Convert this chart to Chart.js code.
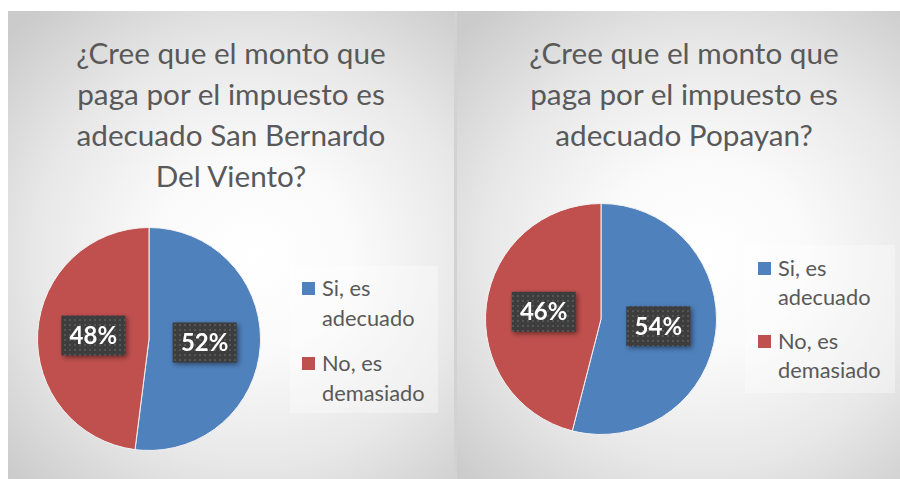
<!DOCTYPE html>
<html lang="es">
<head>
  <meta charset="UTF-8" />
  <title>Monto del impuesto</title>
  <script src="https://cdn.jsdelivr.net/npm/chart.js"></script>
  <style>
    html, body { margin: 0; padding: 0; background: #fff; }
    body { width: 900px; height: 479px; position: relative; overflow: hidden; font-family: "Lato", "Open Sans", sans-serif; }
    .marco { position: absolute; left: 8px; top: 11px; width: 900px; height: 470px; background: #d2d2d2; }
    .panel {
      position: absolute; top: 11px; height: 470px; box-sizing: border-box;
      background: radial-gradient(ellipse 75% 68% at 55% 52%, #ffffff 0%, #fafafa 30%, #e8e8e8 65%, #cbcbcb 100%);
    }
    #panel-izq { left: 8px; width: 446px; }
    #panel-der { left: 457px; width: 450px; }
    .titulo { position: absolute; text-align: center; color: #595959; font-size: 29.7px; line-height: 41px; }
    #titulo-izq { top: 32px; width: 446px; }
    #titulo-der { top: 32px; width: 454px; }
    .leyenda { position: absolute; background: rgba(255,255,255,0.35); color: #595959; font-size: 21.8px; line-height: 30px; box-sizing: border-box; }
    .leyenda .item { position: relative; padding-left: 20px; margin-bottom: 15px; }
    .leyenda .item:last-child { margin-bottom: 0; }
    .leyenda .cuadro { position: absolute; left: 0; top: 9px; width: 13px; height: 13px; }
    canvas { position: absolute; }
  </style>
</head>
<body>
  <div class="marco"></div>

  <div class="panel" id="panel-izq"></div>
  <div class="panel" id="panel-der"></div>

  <div class="titulo" id="titulo-izq" style="left:8px">¿Cree que el monto que<br>paga por el impuesto es<br>adecuado San Bernardo<br>Del Viento?</div>
  <div class="titulo" id="titulo-der" style="left:457px">¿Cree que el monto que<br>paga por el impuesto es<br>adecuado Popayan?</div>

  <div class="leyenda" id="leyenda-izq" style="left:290px; top:266px; width:148px; height:147px; padding:7px 0 0 12px;"></div>
  <div class="leyenda" id="leyenda-der" style="left:745px; top:245px; width:150px; height:148px; padding:8px 0 0 13px; line-height:29px;"></div>

  <canvas id="pie-izq" width="224" height="224" style="left:37px; top:227px;"></canvas>
  <canvas id="pie-der" width="232" height="232" style="left:485px; top:203px;"></canvas>

  <script>
    // datos
    const categorias = [["Si, es", "adecuado"], ["No, es", "demasiado"]];
    const valoresSanBernardo = [52, 48];
    const valoresPopayan = [54, 46];
    const colores = ["#4f81bd", "#c0504d"];

    // leyendas en html
    function armarLeyenda(id) {
      const cont = document.getElementById(id);
      categorias.forEach((lineas, i) => {
        const item = document.createElement("div");
        item.className = "item";
        item.innerHTML = `<span class="cuadro" style="background:${colores[i]}"></span>${lineas.join("<br>")}`;
        cont.appendChild(item);
      });
    }
    armarLeyenda("leyenda-izq");
    armarLeyenda("leyenda-der");

    // patron de puntos para las etiquetas
    const patCanvas = document.createElement("canvas");
    patCanvas.width = 5; patCanvas.height = 5;
    const pctx = patCanvas.getContext("2d");
    pctx.fillStyle = "#3d3d3d";
    pctx.fillRect(0, 0, 5, 5);
    pctx.fillStyle = "#555555";
    pctx.fillRect(2, 2, 2, 2);

    const etiquetas = {
      id: "etiquetas",
      afterDatasetsDraw(chart) {
        const ctx = chart.ctx;
        const meta = chart.getDatasetMeta(0);
        const datos = chart.data.datasets[0].data;
        const total = datos.reduce((a, b) => a + b, 0);
        meta.data.forEach((arc, i) => {
          const pos = arc.tooltipPosition();
          const w = 64, h = 40;
          ctx.save();
          ctx.shadowColor = "rgba(0,0,0,0.45)";
          ctx.shadowBlur = 5;
          ctx.shadowOffsetX = 2;
          ctx.shadowOffsetY = 2;
          ctx.fillStyle = ctx.createPattern(patCanvas, "repeat");
          ctx.fillRect(pos.x - w / 2, pos.y - h / 2, w, h);
          ctx.restore();
          ctx.save();
          ctx.fillStyle = "#ffffff";
          ctx.font = "bold 24px Lato, 'Open Sans', sans-serif";
          ctx.textAlign = "center";
          ctx.textBaseline = "middle";
          ctx.fillText(Math.round(datos[i] / total * 100) + "%", pos.x, pos.y + 1);
          ctx.restore();
        });
      }
    };

    function crearPie(id, valores) {
      return new Chart(document.getElementById(id), {
        type: "pie",
        data: {
          labels: categorias.map(l => l.join(" ")),
          datasets: [{
            data: valores,
            backgroundColor: colores,
            borderColor: "#f2f2f2",
            borderWidth: 1
          }]
        },
        options: {
          responsive: false,
          animation: false,
          events: [],
          plugins: {
            legend: { display: false },
            tooltip: { enabled: false }
          }
        },
        plugins: [etiquetas]
      });
    }

    crearPie("pie-izq", valoresSanBernardo);
    crearPie("pie-der", valoresPopayan);
  </script>
</body>
</html>
